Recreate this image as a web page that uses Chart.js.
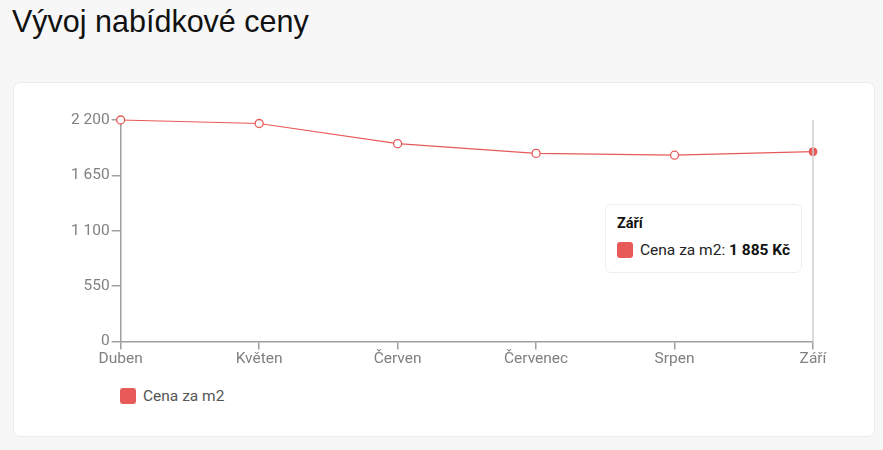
<!DOCTYPE html>
<html lang="cs">
<head>
<meta charset="utf-8">
<title>Vývoj nabídkové ceny</title>
<script src="https://cdn.jsdelivr.net/npm/chart.js@4.4.1/dist/chart.umd.min.js"></script>
<style>
    html, body { margin: 0; padding: 0; }
    body {
        width: 883px;
        height: 450px;
        background: #f7f7f7;
        font-family: Roboto, "Liberation Sans", sans-serif;
        position: relative;
        overflow: hidden;
    }
    h1 {
        position: absolute;
        left: 12px;
        top: 4px;
        margin: 0;
        font-family: "Liberation Sans", Arial, sans-serif;
        font-weight: 400;
        font-size: 30.5px;
        color: #111;
    }
    .card {
        position: absolute;
        left: 13px;
        top: 82px;
        width: 860px;
        height: 353px;
        background: #fff;
        border: 1px solid #ececec;
        border-radius: 7px;
    }
    .chart-wrap {
        position: absolute;
        left: 20px;
        top: 20px;
        width: 821px;
        height: 265px;
    }
    #legend {
        position: absolute;
        left: 106px;
        top: 304px;
        display: flex;
        align-items: center;
        font-size: 15.5px;
        color: #555;
    }
    #legend .box {
        width: 16px;
        height: 16px;
        border-radius: 3px;
        margin-right: 7px;
    }
    #tooltip {
        position: absolute;
        background: #fff;
        border: 1px solid #eee;
        border-radius: 6px;
        padding: 10px 11px 13px 11px;
        font-size: 15.5px;
        color: #222;
        white-space: nowrap;
        pointer-events: none;
        opacity: 0;
    }
    #tooltip .title { font-weight: 700; font-size: 14.5px; margin-bottom: 9px; color: #111; }
    #tooltip .row { display: flex; align-items: center; }
    #tooltip .box { width: 16px; height: 16px; border-radius: 3px; margin-right: 7px; }
    #tooltip b { font-weight: 700; color: #111; }
</style>
</head>
<body>
<h1>Vývoj nabídkové ceny</h1>
<div class="card">
    <div class="chart-wrap"><canvas id="priceChart"></canvas></div>
    <div id="legend"></div>
    <div id="tooltip"></div>
</div>

<script>
// Data
const months = ['Duben', 'Květen', 'Červen', 'Červenec', 'Srpen', 'Září'];
const pricePerM2 = [2200, 2165, 1965, 1868, 1850, 1885];
const seriesLabel = 'Cena za m2';
const yStep = 550;
const yMax = 2200;

const red = '#e85a5a';
const axisGrey = '#a0a0a0';
const labelGrey = '#808080';

function formatNumber(v) {
    return String(v).replace(/\B(?=(\d{3})+(?!\d))/g, ' ');
}

// vertical line at the hovered point
const hoverLine = {
    id: 'hoverLine',
    afterDatasetsDraw(chart) {
        const active = chart.getActiveElements();
        if (!active.length) return;
        const x = active[0].element.x;
        const ctx = chart.ctx;
        ctx.save();
        ctx.beginPath();
        ctx.moveTo(x, chart.chartArea.top);
        ctx.lineTo(x, chart.chartArea.bottom);
        ctx.lineWidth = 1.5;
        ctx.strokeStyle = '#cfcfcf';
        ctx.stroke();
        ctx.restore();
    }
};

// html tooltip
function externalTooltip(context) {
    const el = document.getElementById('tooltip');
    const tooltip = context.tooltip;
    if (tooltip.opacity === 0) {
        el.style.opacity = 0;
        return;
    }
    const item = tooltip.dataPoints[0];
    el.innerHTML =
        '<div class="title">' + item.label + '</div>' +
        '<div class="row"><span class="box" style="background:' + red + '"></span>' +
        item.dataset.label + ':&nbsp;<b>' + formatNumber(item.raw) + ' Kč</b></div>';
    const wrap = context.chart.canvas.parentNode;
    el.style.opacity = 1;
    el.style.left = (wrap.offsetLeft + tooltip.caretX - el.offsetWidth - 11) + 'px';
    el.style.top = (wrap.offsetTop + tooltip.caretY + 52) + 'px';
}

const ctx = document.getElementById('priceChart').getContext('2d');
const chart = new Chart(ctx, {
    type: 'line',
    data: {
        labels: months,
        datasets: [{
            label: seriesLabel,
            data: pricePerM2,
            borderColor: red,
            backgroundColor: red,
            borderWidth: 1.2,
            tension: 0,
            clip: false,
            pointRadius: 4,
            pointBorderWidth: 1.3,
            pointBackgroundColor: '#fff',
            pointBorderColor: red,
            pointHoverRadius: 4,
            pointHoverBackgroundColor: red,
            pointHoverBorderColor: red
        }]
    },
    options: {
        responsive: true,
        maintainAspectRatio: false,
        animation: false,
        layout: { padding: { top: 17, right: 42, left: 35, bottom: 0 } },
        interaction: { mode: 'index', intersect: false },
        plugins: {
            legend: { display: false },
            tooltip: { enabled: false, external: externalTooltip }
        },
        scales: {
            x: {
                offset: false,
                grid: { drawOnChartArea: false, drawTicks: true, tickLength: 8, color: axisGrey, lineWidth: 1.5 },
                border: { color: axisGrey, width: 1.5 },
                ticks: { color: labelGrey, font: { family: 'Roboto', size: 15.5 }, padding: 0, maxRotation: 0 }
            },
            y: {
                min: 0,
                max: yMax,
                grid: { drawOnChartArea: false, drawTicks: true, tickLength: 9, color: axisGrey, lineWidth: 1.5 },
                border: { color: axisGrey, width: 1.5 },
                ticks: {
                    stepSize: yStep,
                    color: labelGrey,
                    padding: 2,
                    font: { family: 'Roboto', size: 15.5 },
                    callback: v => formatNumber(v)
                }
            }
        }
    },
    plugins: [hoverLine]
});

// html legend
const legendEl = document.getElementById('legend');
chart.data.datasets.forEach(ds => {
    const box = document.createElement('span');
    box.className = 'box';
    box.style.background = ds.backgroundColor;
    const txt = document.createElement('span');
    txt.textContent = ds.label;
    legendEl.appendChild(box);
    legendEl.appendChild(txt);
});

// show last month as active
const lastIndex = months.length - 1;
const pt = chart.getDatasetMeta(0).data[lastIndex];
chart.setActiveElements([{ datasetIndex: 0, index: lastIndex }]);
chart.tooltip.setActiveElements([{ datasetIndex: 0, index: lastIndex }], { x: pt.x, y: pt.y });
chart.update();
</script>
</body>
</html>
